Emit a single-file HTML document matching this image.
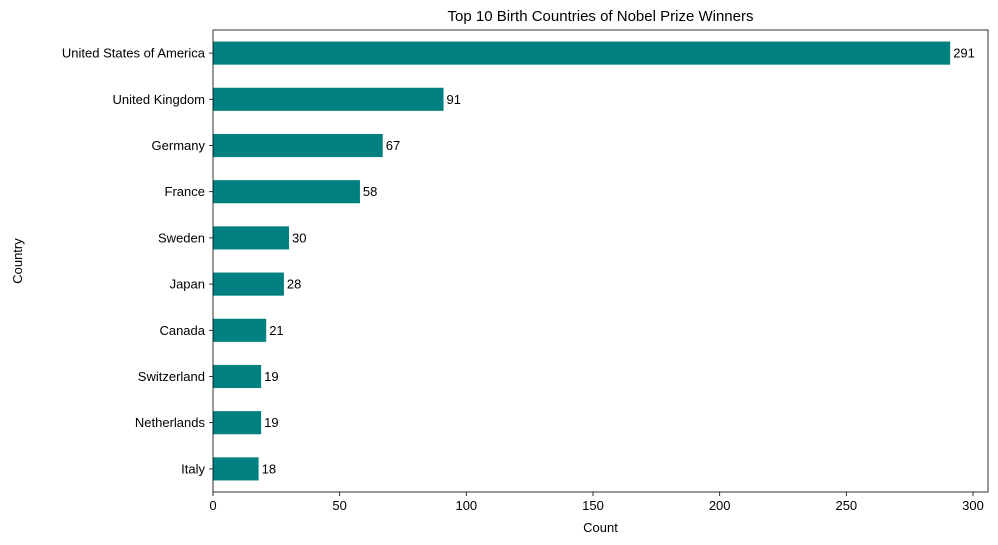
<!DOCTYPE html>
<html><head><meta charset="utf-8"><style>
body{margin:0;background:#fff;}
svg{display:block;font-family:"Liberation Sans","DejaVu Sans",sans-serif;}
</style></head><body>
<svg id="chart" width="998" height="545"></svg>
<script>
const categories=["United States of America","United Kingdom","Germany","France","Sweden","Japan","Canada","Switzerland","Netherlands","Italy"];
const counts=[291,91,67,58,30,28,21,19,19,18];
const xTicks=[0,50,100,150,200,250,300];
const L=213,R=988,T=30,B=492,x0=213,xScale=(973-213)/300;
const svg=document.getElementById('chart');
const NS='http://www.w3.org/2000/svg';
function mk(t,a,txt){const e=document.createElementNS(NS,t);for(const k in a)e.setAttribute(k,a[k]);if(txt!=null)e.textContent=txt;svg.appendChild(e);return e;}
const xs=v=>x0+v*xScale;
const step=(B-T)/categories.length;
const yc=i=>T+step*(i+0.5);
categories.forEach((c,i)=>{
  const h=step*0.5;
  const b=mk('rect',{x:xs(0),y:yc(i)-h/2,width:xs(counts[i])-xs(0),height:h,fill:'#008080'});
  
  
  const v=mk('text',{x:xs(counts[i])+3,y:yc(i)+4.5,'font-size':13,fill:'#000'},String(counts[i]));
  
  
  mk('line',{x1:L-4,x2:L,y1:yc(i),y2:yc(i),stroke:'#000','stroke-width':0.8});
  const t=mk('text',{x:L-8,y:yc(i)+4.5,'font-size':13,'text-anchor':'end'},c);
  
  
});
xTicks.forEach(v=>{
  mk('line',{x1:xs(v),x2:xs(v),y1:B,y2:B+4,stroke:'#000','stroke-width':0.8});
  const t=mk('text',{x:xs(v),y:B+18,'font-size':13,'text-anchor':'middle'},String(v));
  
  
});
mk('rect',{x:L,y:T,width:R-L,height:B-T,fill:'none',stroke:'#000','stroke-width':0.8});
const tt=mk('text',{x:(L+R)/2,y:21,'font-size':15,'text-anchor':'middle'},'Top 10 Birth Countries of Nobel Prize Winners');


const xl=mk('text',{x:(L+R)/2,y:532,'font-size':13,'text-anchor':'middle'},'Count');


const yl=mk('text',{x:22,y:(T+B)/2,'font-size':13,'text-anchor':'middle',transform:'rotate(-90 22 '+((T+B)/2)+')'},'Country');


</script>
</body></html>
